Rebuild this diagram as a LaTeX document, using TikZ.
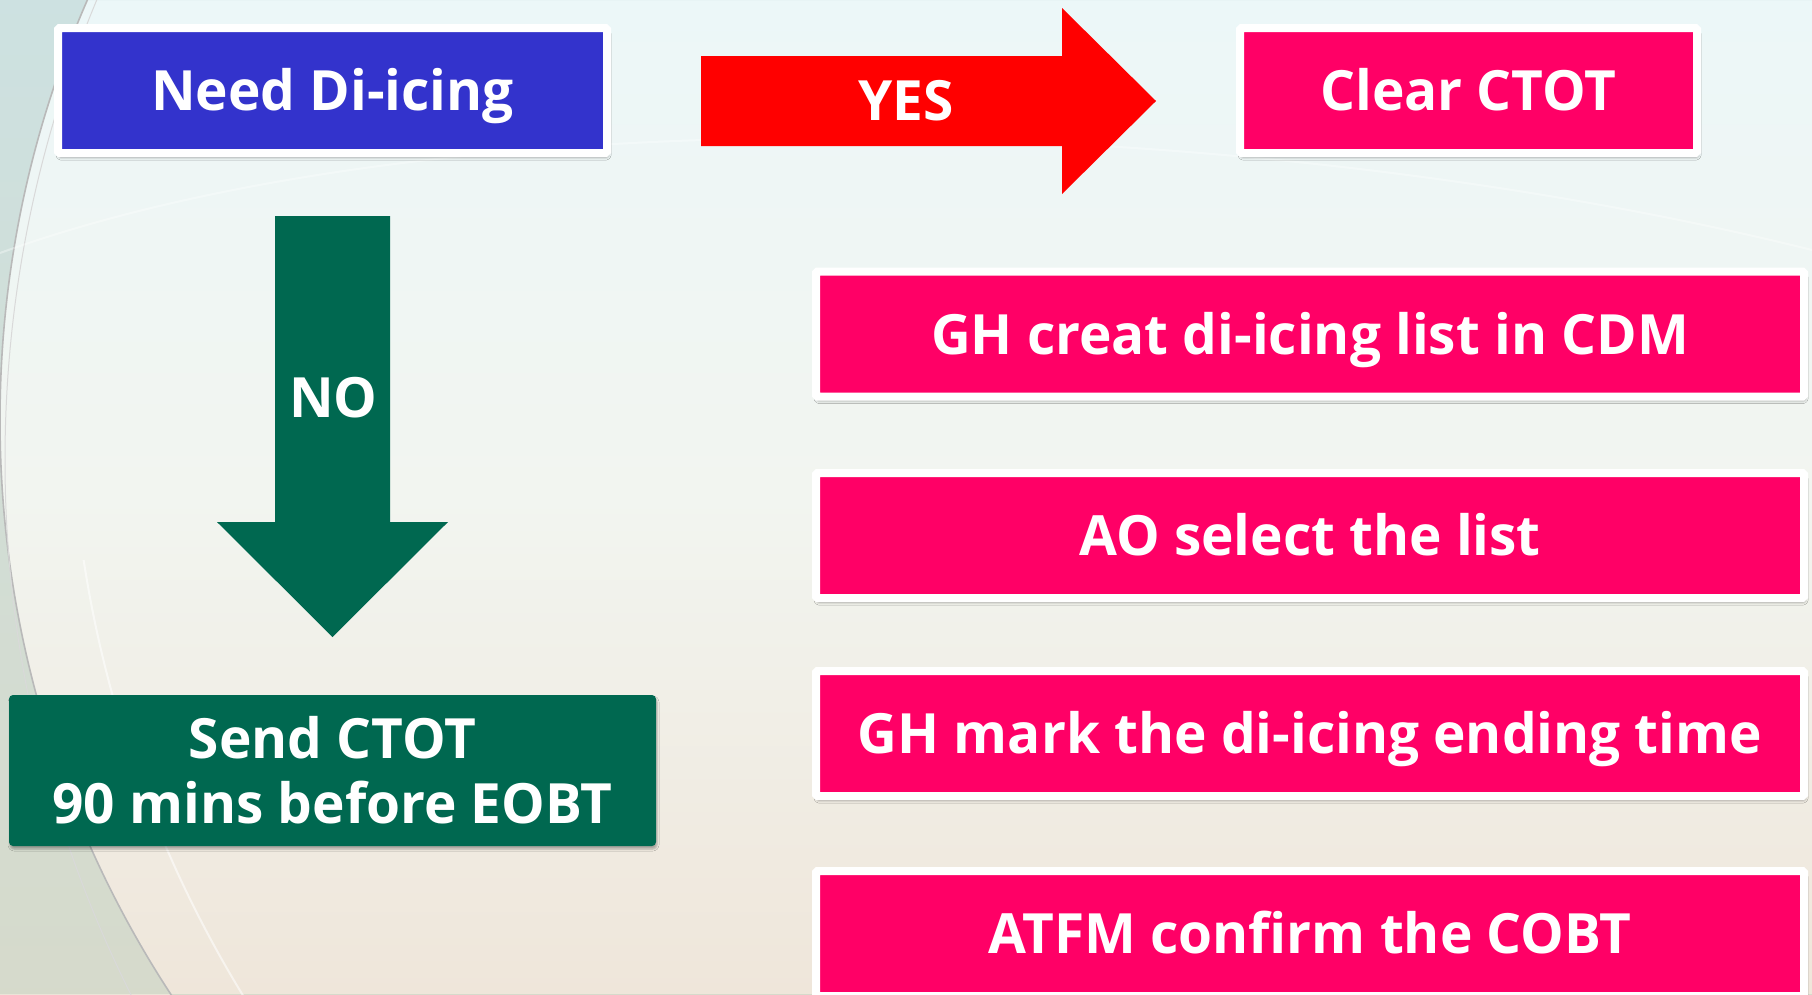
\documentclass[tikz,border=0pt]{standalone}
\usepackage{fontspec}
\setmainfont{Open Sans}[FakeStretch=0.99]
\usetikzlibrary{shadows.blur}
\definecolor{bgtop}{HTML}{ECF7F8}
\definecolor{bgmid}{HTML}{F2F5F0}
\definecolor{bgbot}{HTML}{EFE6DA}
\definecolor{lefttop}{HTML}{C6E6F0}
\definecolor{leftbot}{HTML}{DAD7C2}
\definecolor{needblue}{HTML}{3333CC}
\definecolor{stepink}{HTML}{FF0066}
\definecolor{yesred}{HTML}{FF0000}
\definecolor{nogreen}{HTML}{006850}
\newcommand{\boxfont}{\fontsize{55.5}{65}\selectfont\bfseries}
\tikzset{
  framedbox/.style={draw=white, line width=8pt, rounded corners=1.5pt,
    text=white, font=\boxfont, text height=40pt, text depth=0pt,
    inner sep=0pt, minimum height=125pt,
    blur shadow={shadow xshift=1pt, shadow yshift=-4pt, shadow blur radius=3pt, shadow opacity=40}},
  sendbox/.style={fill=nogreen, rounded corners=4pt, text=white, font=\boxfont,
    align=center, inner sep=0pt, minimum width=647pt, minimum height=151pt,
    blur shadow={shadow xshift=1pt, shadow yshift=-3pt, shadow blur radius=2pt, shadow opacity=30}},
  arrowtext/.style={text=white, font=\boxfont, text height=40pt, text depth=0pt, inner sep=0pt},
}
\begin{document}
\begin{tikzpicture}[x=1pt, y=-1pt]
\useasboundingbox (0,0) rectangle (1812,994);
\begin{scope}
\clip (0,0) rectangle (1812,994);
% background
\shade[top color=bgtop, bottom color=bgbot, middle color=bgmid] (0,0) rectangle (1812,994);
\shade[even odd rule, top color=lefttop, bottom color=leftbot, middle color=leftbot!55!lefttop]
  (0,0) rectangle (1812,994) (1050,420) circle (1050);
\begin{scope}
\clip (0,560) rectangle (600,994);
\draw[white, opacity=0.55, line width=2pt] (1250,380) circle (1180);
\end{scope}
\draw[gray!55, line width=1.6pt] (1050,420) circle (1050);
\draw[gray!30, line width=1pt] (1200,460) circle (1195);
\draw[white, opacity=0.35, line width=2pt] (0,253) .. controls (450,90) and (1250,110) .. (1812,250);

% boxes
\node[framedbox, fill=needblue, minimum width=549pt] (need) at (332.5,90.5) {Need Di-icing};
\node[framedbox, fill=stepink, minimum width=457pt] (clear) at (1468.5,90.5) {Clear CTOT};
\node[framedbox, fill=stepink, minimum width=988pt] (gh1) at (1310,334) {GH creat di-icing list in CDM};
\node[framedbox, fill=stepink, minimum width=988pt] (ao) at (1310,535.5) {AO select the list};
\node[framedbox, fill=stepink, minimum width=988pt] (gh2) at (1310,733.5) {GH mark the di-icing ending time};
\node[framedbox, fill=stepink, minimum width=988pt] (atfm) at (1310,933.5) {ATFM confirm the COBT};
\node[sendbox] (send) at (332.5,770.5) {Send CTOT\\90 mins before EOBT};

% block arrows
\fill[yesred] (701,56) -- (1062,56) -- (1062,8) -- (1156,101) -- (1062,194) -- (1062,146) -- (701,146) -- cycle;
\node[arrowtext] (yes) at (906,100) {YES};
\fill[nogreen] (275,216) -- (390,216) -- (390,522) -- (448,522) -- (332.5,637) -- (217,522) -- (275,522) -- cycle;
\node[arrowtext] (no) at (333.5,397.5) {NO};
\end{scope}
\end{tikzpicture}
\end{document}
